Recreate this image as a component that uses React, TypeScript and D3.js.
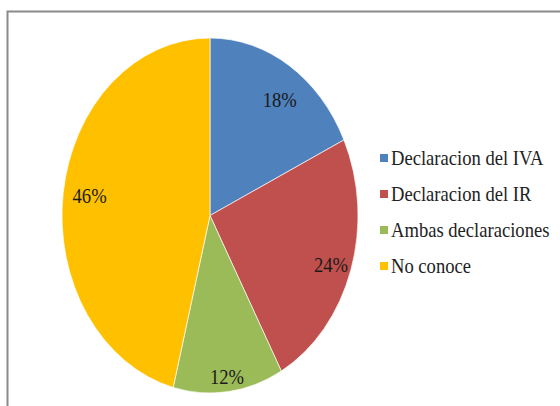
import React from "react";
import * as d3 from "d3";

const categories = ["Declaracion del IVA", "Declaracion del IR", "Ambas declaraciones", "No conoce"];
const values = [18, 24, 12, 46];
const labels = ["18%", "24%", "12%", "46%"];
const colors = ["#4F81BD", "#C0504D", "#9BBB59", "#FFC000"];

const SERIF = "'Liberation Serif', 'Times New Roman', serif";

export default function App() {
  const W = 560, H = 406;
  const cx = 210, cy = 215.5, rx = 148, ry = 177.5;
  const sy = ry / rx;
  const pie = d3.pie<number>().sort(null).value((d) => d)(values);
  const arc = d3.arc<d3.PieArcDatum<number>>().innerRadius(0).outerRadius(rx);
  // label placement as fractions of the horizontal / vertical radius (Excel best-fit look)
  const labelFx = [0.88, 0.86, 0.92, 0.82];
  const labelFy = [0.77, 0.9, 0.92, 0.87];
  const legendY = d3.scalePoint<string>().domain(categories).range([158, 266]);
  return (
    <svg width={W} height={H} style={{ position: "absolute", left: 0, top: 0, background: "#fff" }}>
      <rect x={0} y={0} width={W} height={H} fill="#fff" />
      <path d={`M7.5,${H + 5} V11.5 H${W + 5}`} fill="none" stroke="#8a8a8a" strokeWidth={2} />
      <g transform={`translate(${cx},${cy}) scale(1,${sy})`}>
        {pie.map((p, i) => (
          <path key={i} d={arc(p) || ""} fill={colors[i]} stroke="#fff" strokeWidth={0.6} />
        ))}
      </g>
      {pie.map((p, i) => {
        const a = (p.startAngle + p.endAngle) / 2;
        const x = cx + Math.sin(a) * rx * labelFx[i];
        const y = cy - Math.cos(a) * ry * labelFy[i];
        return (
          <text key={i} x={x} y={y} textAnchor="middle" dominantBaseline="central" fill="#1a1a1a"
            fontFamily={SERIF} fontSize={20}
            transform={`translate(${x},${y}) scale(0.93,1) translate(${-x},${-y})`}>
            {labels[i]}
          </text>
        );
      })}
      {categories.map((c, i) => (
        <g key={c} transform={`translate(0,${legendY(c)})`}>
          <rect x={380} y={-4} width={8} height={8} fill={colors[i]} />
          <text x={391} y={0} dominantBaseline="central" fill="#222"
            fontFamily={SERIF} fontSize={20}
            transform="translate(391,0) scale(0.93,1) translate(-391,0)">{c}</text>
        </g>
      ))}
    </svg>
  );
}
